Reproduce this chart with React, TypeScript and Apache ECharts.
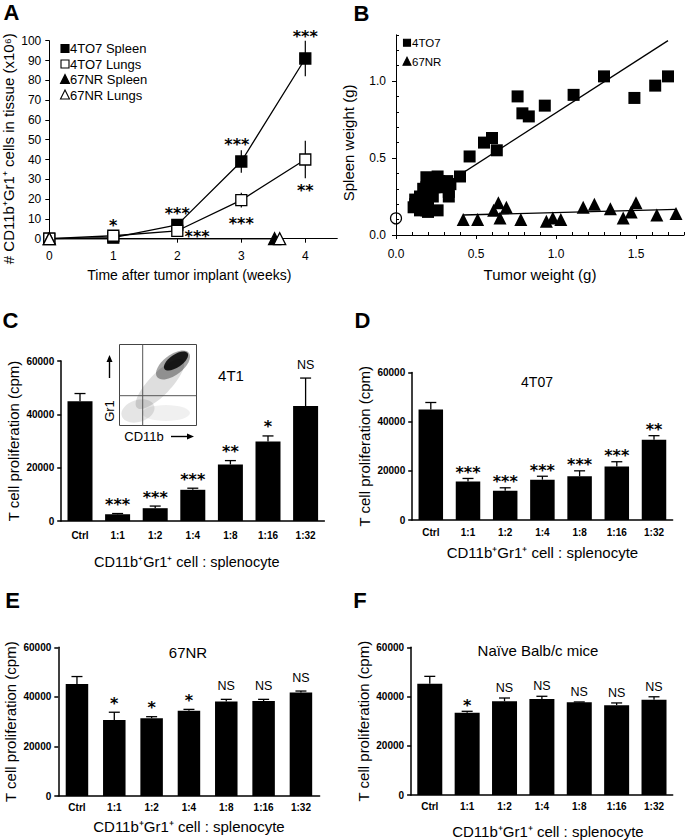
import React, { useEffect, useRef } from 'react';
import * as echarts from 'echarts';

const FF = '"Liberation Sans", Arial, Helvetica, sans-serif';
const SF = '"DejaVu Sans", sans-serif';

// ---------- Panel A ----------
const weeks = [0, 1, 2, 3, 4];
const spleen4TO7 = [0, 0.5, 7, 39, 91];
const spleen4TO7Err = [0, 0.3, 1, 5.7, 9];
const lungs4TO7 = [0, 1.5, 4, 19.5, 40];
const lungs4TO7Err = [0, 0.3, 0.8, 3.7, 9.5];
const weeks67NRSpleen = [0, 3.52];
const spleen67NR = [0, 0];
const weeks67NRLungs = [0, 3.6];
const lungs67NR = [0, 0];
const aTickWeeks = [0, 1, 2, 3, 4];
const aSigWeek = [1, 2, 2.31, 2.93, 3, 4, 4];
const aSigValue = [8.6, 14.8, 3.2, 49.8, 9.9, 104, 26.3];
const aSigText = ['*', '***', '***', '***', '***', '***', '**'];

// ---------- Panel B ----------
const tumor4TO7 = [0.11, 0.12, 0.12, 0.15, 0.15, 0.16, 0.17, 0.19, 0.19, 0.19, 0.2, 0.2, 0.21, 0.22, 0.23, 0.24, 0.26, 0.26, 0.27, 0.29, 0.3, 0.32, 0.33, 0.33, 0.34,
  0.4, 0.46, 0.55, 0.6, 0.63, 0.76, 0.79, 0.83, 0.93, 1.11, 1.3, 1.49, 1.62, 1.7];
const spleenW4TO7 = [0.18, 0.23, 0.2, 0.25, 0.16, 0.21, 0.3, 0.375, 0.31, 0.16, 0.19, 0.15, 0.26, 0.35, 0.25, 0.31, 0.38, 0.16, 0.35, 0.34, 0.31, 0.35, 0.28, 0.25, 0.33,
  0.38, 0.51, 0.6, 0.63, 0.55, 0.9, 0.79, 0.77, 0.84, 0.91, 1.03, 0.89, 0.97, 1.03];
const tumor67NR = [0.42, 0.51, 0.61, 0.64, 0.65, 0.69, 0.78, 0.94, 0.98, 1.03, 1.17, 1.24, 1.34, 1.42, 1.47, 1.5, 1.63, 1.75];
const spleenW67NR = [0.1, 0.1, 0.16, 0.21, 0.11, 0.18, 0.1, 0.09, 0.11, 0.1, 0.18, 0.2, 0.17, 0.11, 0.15, 0.21, 0.13, 0.14];
const fit4TO7X = [0.11, 1.7];
const fit4TO7Y = [0.197, 1.262];
const fit67NRX = [0.42, 1.75];
const fit67NRY = [0.13, 0.167];
const refCircle = [0, 0.108];
const bXLabels = [0, 0.5, 1, 1.5];
const bYLabels = [0, 0.5, 1];
const bXMinor = [0.1, 0.2, 0.3, 0.4, 0.6, 0.7, 0.8, 0.9, 1.1, 1.2, 1.3, 1.4, 1.6, 1.7, 1.8];
const bYMinor = [0.1, 0.2, 0.3, 0.4, 0.6, 0.7, 0.8, 0.9, 1.1, 1.2, 1.3];

// ---------- Panels C-F ----------
const ratios = ['Ctrl', '1:1', '1:2', '1:4', '1:8', '1:16', '1:32'];
const prolif4T1 = [44900, 2500, 4800, 11700, 21200, 29800, 43100];
const err4T1 = [2900, 300, 800, 600, 1450, 2100, 10500];
const sig4T1 = ['', '***', '***', '***', '**', '*', 'NS'];
const prolif4T07 = [44900, 15700, 11900, 16400, 17800, 21800, 32600];
const err4T07 = [2900, 1200, 1200, 1400, 2200, 1900, 1700];
const sig4T07 = ['', '***', '***', '***', '***', '***', '**'];
const prolif67NR = [45200, 30700, 31400, 34400, 38100, 38300, 41800];
const err67NR = [3000, 3100, 600, 550, 900, 700, 550];
const sig67NR = ['', '*', '*', '*', 'NS', 'NS', 'NS'];
const prolifNaive = [45200, 33400, 38100, 39000, 37700, 36500, 38700];
const errNaive = [3000, 600, 1300, 1100, 100, 900, 1200];
const sigNaive = ['', '*', 'NS', 'NS', 'NS', 'NS', 'NS'];
const prolifMax = 60000;
const prolifStep = 20000;

const xTitleBar = 'CD11b\u207AGr1\u207A cell : splenocyte';
const yTitleBar = 'T cell proliferation (cpm)';

function buildOption() {
  const black = '#000';
  const grids: any[] = [
    { left: 49.3, top: 40.7, width: 288, height: 198 },
    { left: 396, top: 34.8, width: 288, height: 200.2 },
    { left: 61.2, top: 361, width: 263.2, height: 160 },
    { left: 412.2, top: 372.5, width: 260.4, height: 147.5 },
    { left: 58.3, top: 647.3, width: 261.3, height: 148.7 },
    { left: 411.1, top: 647.3, width: 261.6, height: 148.7 },
  ];
  const xAxes: any[] = [];
  const yAxes: any[] = [];
  const series: any[] = [];
  const starLabel = { color: black, fontFamily: SF, fontSize: 16, fontWeight: 'bold' };

  // ----- A axes -----
  xAxes.push({
    type: 'value', gridIndex: 0, min: 0, max: 4.5,
    axisLine: { show: true, onZero: false, lineStyle: { color: black, width: 1 } },
    axisTick: { show: true, customValues: aTickWeeks, length: 4, lineStyle: { color: black } },
    axisLabel: { customValues: aTickWeeks, color: black, fontFamily: FF, fontSize: 12, margin: 11 },
    splitLine: { show: false },
    name: 'Time after tumor implant (weeks)', nameLocation: 'middle', nameGap: 29,
    nameTextStyle: { color: black, fontFamily: FF, fontSize: 14, padding: [0, 8, 0, 0] },
  });
  yAxes.push({
    type: 'value', gridIndex: 0, min: 0, max: 100, interval: 10,
    axisLine: { show: true, lineStyle: { color: black, width: 1 } },
    axisTick: { show: true, length: 4, lineStyle: { color: black } },
    axisLabel: { color: black, fontFamily: FF, fontSize: 12, margin: 8 },
    splitLine: { show: false },
    name: '# CD11b\u207AGr1\u207A cells in tissue (x10\u2076)', nameLocation: 'middle', nameGap: 33, nameRotate: 90,
    nameTextStyle: { color: black, fontFamily: FF, fontSize: 15, padding: [0, 18, 0, 0] },
  });

  // ----- B axes -----
  xAxes.push({
    type: 'value', gridIndex: 1, min: 0, max: 1.8,
    axisLine: { show: true, onZero: false, lineStyle: { color: black, width: 1 } },
    axisTick: { show: true, customValues: bXLabels, length: 4, lineStyle: { color: black } },
    axisLabel: { customValues: bXLabels, color: black, fontFamily: FF, fontSize: 12, margin: 13, formatter: (v: number) => v.toFixed(1) },
    splitLine: { show: false },
    name: 'Tumor weight (g)', nameLocation: 'middle', nameGap: 32,
    nameTextStyle: { color: black, fontFamily: FF, fontSize: 15 },
  });
  xAxes.push({
    type: 'value', gridIndex: 1, min: 0, max: 1.8,
    axisLine: { show: false },
    axisTick: { show: true, customValues: bXMinor, length: 3, lineStyle: { color: black } },
    axisLabel: { show: false },
    splitLine: { show: false },
  });
  yAxes.push({
    type: 'value', gridIndex: 1, min: 0, max: 1.3,
    axisLine: { show: true, onZero: false, lineStyle: { color: black, width: 1 } },
    axisTick: { show: true, customValues: bYLabels, length: 4, lineStyle: { color: black } },
    axisLabel: { customValues: bYLabels, color: black, fontFamily: FF, fontSize: 12, margin: 10, formatter: (v: number) => v.toFixed(1) },
    splitLine: { show: false },
    name: 'Spleen weight (g)', nameLocation: 'middle', nameGap: 40, nameRotate: 90,
    nameTextStyle: { color: black, fontFamily: FF, fontSize: 15, padding: [0, 16, 0, 0] },
  });
  yAxes.push({
    type: 'value', gridIndex: 1, min: 0, max: 1.3,
    axisLine: { show: false },
    axisTick: { show: true, customValues: bYMinor, length: 3, lineStyle: { color: black } },
    axisLabel: { show: false },
    splitLine: { show: false },
  });

  // ----- A series -----
  const aErr = (xs: number[], ys: number[], es: number[]) => xs.map((x, i) => [x, ys[i], es[i]]);
  series.push({
    type: 'custom', xAxisIndex: 0, yAxisIndex: 0, silent: true, z: 1, clip: false,
    data: [...aErr(weeks, spleen4TO7, spleen4TO7Err), ...aErr(weeks, lungs4TO7, lungs4TO7Err)],
    renderItem: (params: any, api: any) => {
      const x = api.value(0), y = api.value(1), e = api.value(2);
      const lo = api.coord([x, y - e]);
      const hi = api.coord([x, y + e]);
      return { type: 'line', shape: { x1: lo[0], y1: lo[1], x2: hi[0], y2: hi[1] }, style: { stroke: black, lineWidth: 1.2 } };
    },
  });
  const lineSeries = (name: string, xs: number[], ys: number[], symbol: string, size: number, filled: boolean) => ({
    type: 'line', name, xAxisIndex: 0, yAxisIndex: 0, clip: false, silent: true, z: 3,
    data: xs.map((x, i) => [x, ys[i]]),
    symbol, symbolSize: size, showSymbol: true,
    lineStyle: { color: black, width: 1.3 },
    itemStyle: { color: filled ? black : '#fff', borderColor: black, borderWidth: 1.3, opacity: 1 },
  });
  series.push(lineSeries('4TO7 Spleen', weeks, spleen4TO7, 'rect', 11, true));
  series.push(lineSeries('4TO7 Lungs', weeks, lungs4TO7, 'rect', 11, false));
  series.push(lineSeries('67NR Spleen', weeks67NRSpleen, spleen67NR, 'triangle', 12, true));
  series.push(lineSeries('67NR Lungs', weeks67NRLungs, lungs67NR, 'triangle', 12, false));
  series.push({
    type: 'scatter', xAxisIndex: 0, yAxisIndex: 0, clip: false, silent: true, symbolSize: 0, z: 5,
    itemStyle: { opacity: 1 },
    data: aSigWeek.map((x, i) => [x, aSigValue[i]]),
    label: {
      show: true, position: 'inside', offset: [0, 4], ...starLabel,
      formatter: (p: any) => aSigText[p.dataIndex],
    },
  });

  // ----- B series -----
  series.push({
    type: 'scatter', name: '4TO7', xAxisIndex: 1, yAxisIndex: 1, clip: false, silent: true, z: 3,
    symbol: 'rect', symbolSize: 12, itemStyle: { color: black, opacity: 1 },
    data: tumor4TO7.map((x, i) => [x, spleenW4TO7[i]]),
  });
  series.push({
    type: 'scatter', name: '67NR', xAxisIndex: 1, yAxisIndex: 1, clip: false, silent: true, z: 3,
    symbol: 'triangle', symbolSize: 13, itemStyle: { color: black, opacity: 1 },
    data: tumor67NR.map((x, i) => [x, spleenW67NR[i]]),
  });
  series.push({
    type: 'line', xAxisIndex: 1, yAxisIndex: 1, silent: true, symbol: 'none', z: 2,
    lineStyle: { color: black, width: 1.3 },
    data: fit4TO7X.map((x, i) => [x, fit4TO7Y[i]]),
  });
  series.push({
    type: 'line', xAxisIndex: 1, yAxisIndex: 1, silent: true, symbol: 'none', z: 2,
    lineStyle: { color: black, width: 1.3 },
    data: fit67NRX.map((x, i) => [x, fit67NRY[i]]),
  });
  series.push({
    type: 'scatter', xAxisIndex: 1, yAxisIndex: 1, clip: false, silent: true, z: 4,
    symbol: 'circle', symbolSize: 11,
    itemStyle: { color: 'rgba(0,0,0,0)', borderColor: black, borderWidth: 1.2, opacity: 1 },
    data: [refCircle],
  });

  // ----- Bar panels -----
  const panels = [
    { vals: prolif4T1, errs: err4T1, sigs: sig4T1, gap: 13, barWidth: 25, labelMargin: 9, xGap: 33, xSize: 14.5, xPad: [0, 12, 0, 0] },
    { vals: prolif4T07, errs: err4T07, sigs: sig4T07, gap: 10, barWidth: 24.5, labelMargin: 7, xGap: 25, xSize: 15, xPad: [0, 0, 0, 0] },
    { vals: prolif67NR, errs: err67NR, sigs: sig67NR, gap: 13, barWidth: 22.5, labelMargin: 6, xGap: 23, xSize: 15, xPad: [0, 0, 0, 0] },
    { vals: prolifNaive, errs: errNaive, sigs: sigNaive, gap: 10, barWidth: 25, labelMargin: 6, xGap: 29, xSize: 15, xPad: [0, 0, 0, 12] },
  ];
  panels.forEach((p, k) => {
    const g = k + 2;
    const axisIdx = k + 3;
    xAxes.push({
      type: 'category', gridIndex: g, data: ratios, boundaryGap: true,
      axisLine: { show: true, lineStyle: { color: black, width: 1.5 } },
      axisTick: { show: false },
      axisLabel: { color: black, fontFamily: FF, fontSize: 10, fontWeight: 'bold', margin: p.labelMargin },
      splitLine: { show: false },
      name: xTitleBar, nameLocation: 'middle', nameGap: p.xGap,
      nameTextStyle: { color: black, fontFamily: FF, fontSize: p.xSize, padding: p.xPad },
    });
    yAxes.push({
      type: 'value', gridIndex: g, min: 0, max: prolifMax, interval: prolifStep,
      axisLine: { show: true, lineStyle: { color: black, width: 1.5 } },
      axisTick: { show: true, length: 4, lineStyle: { color: black, width: 1.5 } },
      axisLabel: { color: black, fontFamily: FF, fontSize: 10, fontWeight: 'bold', margin: 7, formatter: (v: number) => String(v) },
      splitLine: { show: false },
      name: yTitleBar, nameLocation: 'middle', nameGap: 40.5, nameRotate: 90,
      nameTextStyle: { color: black, fontFamily: FF, fontSize: 15 },
    });
    series.push({
      type: 'bar', xAxisIndex: axisIdx, yAxisIndex: axisIdx, silent: true, z: 2,
      barWidth: p.barWidth, itemStyle: { color: black }, data: p.vals,
    });
    series.push({
      type: 'custom', xAxisIndex: axisIdx, yAxisIndex: axisIdx, silent: true, z: 3, clip: false,
      data: p.vals.map((v, i) => [i, v, p.errs[i]]),
      renderItem: (params: any, api: any) => {
        const i = api.value(0), v = api.value(1), e = api.value(2);
        const base = api.coord([i, v]);
        const top = api.coord([i, v + e]);
        const hw = 5.5;
        return {
          type: 'group',
          children: [
            { type: 'line', shape: { x1: base[0], y1: base[1], x2: top[0], y2: top[1] }, style: { stroke: black, lineWidth: 1.3 } },
            { type: 'line', shape: { x1: top[0] - hw, y1: top[1], x2: top[0] + hw, y2: top[1] }, style: { stroke: black, lineWidth: 1.3 } },
          ],
        };
      },
    });
    series.push({
      type: 'scatter', xAxisIndex: axisIdx, yAxisIndex: axisIdx, silent: true, clip: false, symbolSize: 0, z: 5,
      itemStyle: { opacity: 1 },
      data: p.vals.map((v, i) => (p.sigs[i].includes('*') ? [i, v + p.errs[i]] : [i, '-'])),
      label: {
        show: true, position: 'inside', offset: [0, -p.gap + 4], ...starLabel,
        formatter: (q: any) => p.sigs[q.dataIndex],
      },
    });
    series.push({
      type: 'scatter', xAxisIndex: axisIdx, yAxisIndex: axisIdx, silent: true, clip: false, symbolSize: 0, z: 5,
      itemStyle: { opacity: 1 },
      data: p.vals.map((v, i) => (p.sigs[i] === 'NS' ? [i, v + p.errs[i]] : [i, '-'])),
      label: {
        show: true, position: 'inside', offset: [0, -p.gap], color: black, fontFamily: FF, fontSize: 12.5,
        formatter: (q: any) => p.sigs[q.dataIndex],
      },
    });
  });

  // ----- graphic decorations -----
  const txt = (text: string, x: number, y: number, size: number, opts: any = {}) => ({
    type: 'text', x, y, rotation: opts.rotation || 0, silent: true,
    style: {
      text, fill: black, fontFamily: opts.family || FF, fontSize: size, fontWeight: opts.weight || 'normal',
      align: opts.align || 'center', verticalAlign: 'middle',
      textAlign: opts.align || 'center', textVerticalAlign: 'middle',
    },
  });
  const tri = (cx: number, cy: number, s: number, filled: boolean) => ({
    type: 'polygon', silent: true,
    shape: { points: [[cx, cy - s * 0.55], [cx - s / 2, cy + s * 0.45], [cx + s / 2, cy + s * 0.45]] },
    style: { fill: filled ? black : '#fff', stroke: black, lineWidth: 1.1 },
  });
  const sq = (cx: number, cy: number, s: number, filled: boolean) => ({
    type: 'rect', silent: true,
    shape: { x: cx - s / 2, y: cy - s / 2, width: s, height: s },
    style: { fill: filled ? black : '#fff', stroke: black, lineWidth: 1.1 },
  });
  const ln = (x1: number, y1: number, x2: number, y2: number, color = black, w = 1) => ({
    type: 'line', silent: true, shape: { x1, y1, x2, y2 }, style: { stroke: color, lineWidth: w },
  });
  const ell = (x: number, y: number, rx: number, ry: number, rot: number, fill: string) => ({
    type: 'ellipse', silent: true, x, y, rotation: rot, shape: { cx: 0, cy: 0, rx, ry }, style: { fill },
  });

  const graphic: any[] = [
    // panel letters
    txt('A', 11.5, 12, 22, { weight: 'bold' }),
    txt('B', 361.5, 13, 22, { weight: 'bold' }),
    txt('C', 10.5, 320, 22, { weight: 'bold' }),
    txt('D', 362.5, 320, 22, { weight: 'bold' }),
    txt('E', 12.5, 600, 22, { weight: 'bold' }),
    txt('F', 360, 600, 22, { weight: 'bold' }),
    // legend A
    sq(65, 48.5, 8, true), txt('4TO7 Spleen', 70, 48.5, 13, { align: 'left' }),
    sq(65, 64, 8, false), txt('4TO7 Lungs', 70, 64, 13, { align: 'left' }),
    tri(65, 79.5, 9, true), txt('67NR Spleen', 70, 79.5, 13, { align: 'left' }),
    tri(65, 95, 9, false), txt('67NR Lungs', 70, 95, 13, { align: 'left' }),
    // legend B
    sq(407, 42.7, 7, true), txt('4TO7', 412, 42.7, 11.5, { align: 'left' }),
    tri(407, 61.7, 8, true), txt('67NR', 412, 61.7, 11.5, { align: 'left' }),
    // panel titles
    txt('4T1', 231, 375, 15),
    txt('4T07', 537, 382, 14),
    txt('67NR', 188, 652, 15),
    txt('Na\u00EFve Balb/c mice', 538, 650, 15),
    // inset (flow cytometry)
    { type: 'rect', silent: true, shape: { x: 119.5, y: 344.5, width: 77, height: 81 }, style: { fill: '#fff', stroke: '#444', lineWidth: 1 } },
    ell(138, 411, 17, 11, 0.3, 'rgba(0,0,0,0.10)'),
    ell(166, 413, 24, 8, 0, 'rgba(0,0,0,0.06)'),
    ell(160, 384, 33, 11, 0.8, 'rgba(0,0,0,0.13)'),
    ell(173, 365, 20, 10, 0.65, 'rgba(0,0,0,0.35)'),
    ell(176, 361, 14, 6.5, 0.6, 'rgba(0,0,0,0.85)'),
    ln(142.7, 344.5, 142.7, 425.5, '#555', 1),
    ln(119.5, 395.7, 196.5, 395.7, '#555', 1),
    txt('Gr1', 109.5, 411, 13, { rotation: Math.PI / 2 }),
    ln(109.5, 378, 109.5, 361, black, 1.4),
    { type: 'polygon', silent: true, shape: { points: [[109.5, 355], [106.5, 362], [112.5, 362]] }, style: { fill: black } },
    txt('CD11b', 144, 436.5, 13),
    ln(171, 436.5, 187, 436.5, black, 1.4),
    { type: 'polygon', silent: true, shape: { points: [[194, 436.5], [187, 433.5], [187, 439.5]] }, style: { fill: black } },
  ];

  return {
    animation: false,
    backgroundColor: '#fff',
    grid: grids,
    xAxis: xAxes,
    yAxis: yAxes,
    series,
    graphic,
  };
}

export default function App() {
  const ref = useRef<HTMLDivElement>(null);
  useEffect(() => {
    if (!ref.current) return;
    const chart = echarts.init(ref.current, null, { renderer: 'svg' });
    chart.setOption(buildOption() as any);
    return () => chart.dispose();
  }, []);
  return (
    <div
      ref={ref}
      style={{ position: 'fixed', left: 0, top: 0, width: 685, height: 840, background: '#fff' }}
    />
  );
}
